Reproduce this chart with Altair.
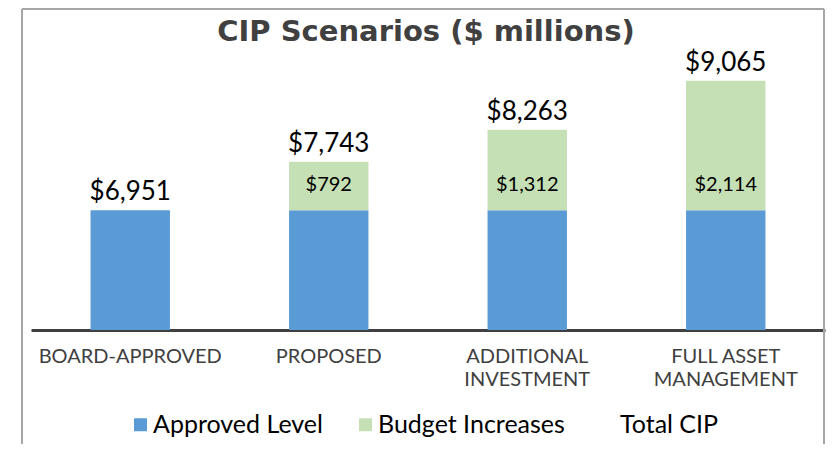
import altair as alt
import pandas as pd

categories = ["BOARD-APPROVED", "PROPOSED", "ADDITIONAL INVESTMENT", "FULL ASSET MANAGEMENT"]
approved = [6951, 6951, 6951, 6951]
increases = [0, 792, 1312, 2114]
totals = [6951, 7743, 8263, 9065]
series = ["Approved Level", "Budget Increases", "Total CIP"]
colors = ["#5B9BD5", "#C5E0B4", "transparent"]
title_text = "CIP Scenarios ($ millions)"

FONT = "Lato"
W, H = 794, 276

rows = []
for c, a, b in zip(categories, approved, increases):
    rows.append({"cat": c, "series": series[0], "value": a, "ord": 0})
    if b > 0:
        rows.append({"cat": c, "series": series[1], "value": b, "ord": 1})
bars_df = pd.DataFrame(rows)

tot_df = pd.DataFrame({"cat": categories, "total": totals})
inc_df = pd.DataFrame({"cat": categories, "base": approved, "inc": increases})
inc_df = inc_df[inc_df["inc"] > 0]

label_expr = (
    "datum.label == 'ADDITIONAL INVESTMENT' ? ['ADDITIONAL', 'INVESTMENT'] : "
    "datum.label == 'FULL ASSET MANAGEMENT' ? ['FULL ASSET', 'MANAGEMENT'] : datum.label"
)

xenc = alt.X(
    "cat:N",
    sort=categories,
    title=None,
    scale=alt.Scale(paddingInner=0.6, paddingOuter=0.3),
    axis=alt.Axis(
        labelExpr=label_expr,
        labelAngle=0,
        ticks=False,
        domainColor="#404040",
        domainWidth=3,
        labelFont=FONT,
        labelFontSize=20,
        labelColor="#404040",
        labelPadding=16,
        labelLineHeight=23,
        labelBaseline="top",
        labelLimit=300,
    ),
)
yscale = alt.Scale(domain=[5000, 9500], nice=False, zero=False)

bars = alt.Chart(bars_df).mark_bar(clip=True).encode(
    x=xenc,
    y=alt.Y("value:Q", stack="zero", scale=yscale, axis=None),
    color=alt.Color(
        "series:N",
        scale=alt.Scale(domain=series, range=colors),
        legend=alt.Legend(
            title=None,
            orient="none",
            legendX=97,
            legendY=358,
            direction="horizontal",
            symbolType="square",
            symbolSize=169,
            symbolStrokeWidth=0,
            labelFont=FONT,
            labelFontSize=25,
            labelColor="#000000",
            labelOffset=0,
            labelLimit=400,
            columnPadding=30,
        ),
    ),
    order=alt.Order("ord:Q"),
)

tot_text = alt.Chart(tot_df).mark_text(
    baseline="bottom", dy=-5, font=FONT, fontSize=26, color="#000000"
).encode(
    x=alt.X("cat:N", sort=categories),
    y=alt.Y("total:Q", scale=yscale),
    text=alt.Text("total:Q", format="$,d"),
)

inc_text = alt.Chart(inc_df).mark_text(
    baseline="middle", dy=-25, font=FONT, fontSize=20, color="#000000"
).encode(
    x=alt.X("cat:N", sort=categories),
    y=alt.Y("base:Q", scale=yscale),
    text=alt.Text("inc:Q", format="$,d"),
)

one = pd.DataFrame({"t": [title_text]})
title_mark = alt.Chart(one).mark_text(
    font="DejaVu Sans", fontSize=29, fontWeight="bold", color="#404040",
    baseline="alphabetic", align="center",
).encode(x=alt.value(W / 2 - 2), y=alt.value(-13), text="t:N")

border_col = "#A6A6A6"
left_b = alt.Chart(one).mark_rule(color=border_col, strokeWidth=2).encode(
    x=alt.value(-9), y=alt.value(-45), y2=alt.value(H + 120)
)
top_b = alt.Chart(one).mark_rule(color=border_col, strokeWidth=2).encode(
    x=alt.value(-9), x2=alt.value(W - 1), y=alt.value(-45)
)
right_b = alt.Chart(one).mark_rule(color=border_col, strokeWidth=2).encode(
    x=alt.value(W - 1), y=alt.value(-45), y2=alt.value(H + 120)
)

chart = alt.layer(bars, tot_text, inc_text, title_mark, left_b, top_b, right_b).properties(
    width=W,
    height=H,
    background="white",
    autosize=alt.AutoSizeParams(type="none"),
    padding={"left": 23, "top": 46, "right": 1, "bottom": 114},
).configure_view(stroke=None)

chart.save("out.html", embed_options={"renderer": "svg", "actions": False})
